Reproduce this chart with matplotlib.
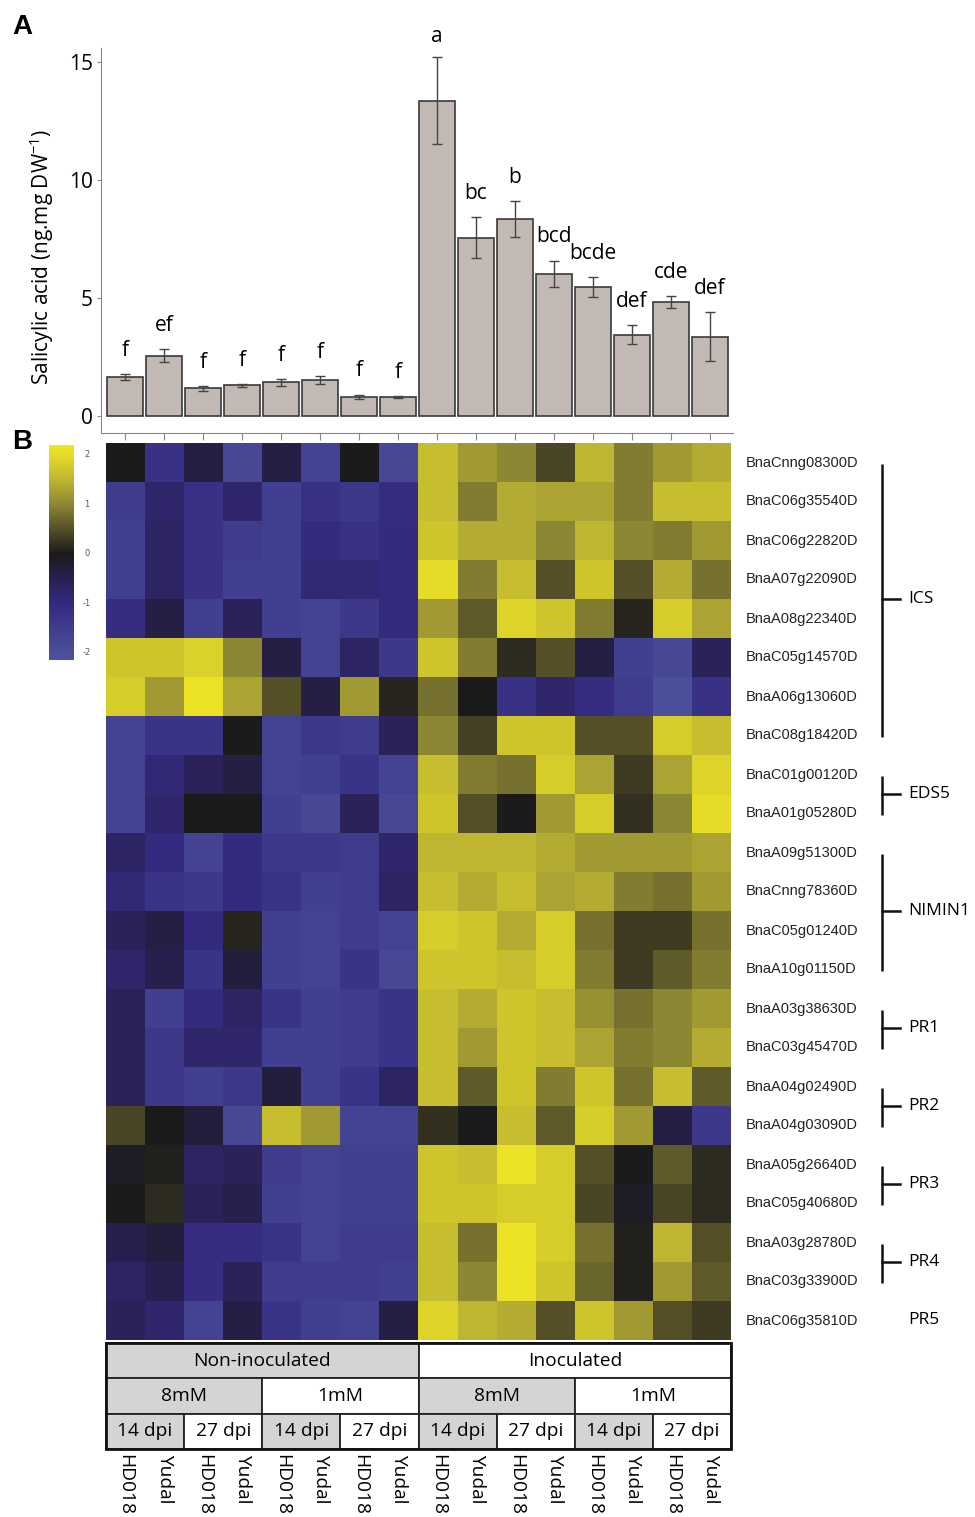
import matplotlib
matplotlib.use("Agg")
import matplotlib.pyplot as plt
import numpy as np
from matplotlib.colors import LinearSegmentedColormap
from matplotlib.patches import Rectangle

plt.rcParams['font.family'] = ['Open Sans', 'DejaVu Sans']
plt.rcParams['mathtext.fontset'] = 'custom'
plt.rcParams['mathtext.rm'] = 'Open Sans'
plt.rcParams['mathtext.default'] = 'regular'

# ---- panel A data ----
sa_mean = [1.66, 2.55, 1.18, 1.30, 1.43, 1.52, 0.81, 0.81,
           13.37, 7.55, 8.35, 6.04, 5.48, 3.45, 4.84, 3.37]
sa_err = [0.12, 0.27, 0.10, 0.05, 0.15, 0.17, 0.10, 0.03,
          1.86, 0.87, 0.77, 0.55, 0.42, 0.39, 0.26, 1.03]
sa_letters = ['f', 'ef', 'f', 'f', 'f', 'f', 'f', 'f',
              'a', 'bc', 'b', 'bcd', 'bcde', 'def', 'cde', 'def']

# ---- panel B data ----
genes = ['BnaCnng08300D', 'BnaC06g35540D', 'BnaC06g22820D', 'BnaA07g22090D',
         'BnaA08g22340D', 'BnaC05g14570D', 'BnaA06g13060D', 'BnaC08g18420D',
         'BnaC01g00120D', 'BnaA01g05280D', 'BnaA09g51300D', 'BnaCnng78360D',
         'BnaC05g01240D', 'BnaA10g01150D', 'BnaA03g38630D', 'BnaC03g45470D',
         'BnaA04g02490D', 'BnaA04g03090D', 'BnaA05g26640D', 'BnaC05g40680D',
         'BnaA03g28780D', 'BnaC03g33900D', 'BnaC06g35810D']
groups = ['ICS', 'EDS5', 'NIMIN1', 'PR1', 'PR2', 'PR3', 'PR4', 'PR5']
group_first = [0, 8, 10, 14, 16, 18, 20, 22]
group_last = [7, 9, 13, 15, 17, 19, 21, 22]

expr_z = [
    [0.0, -1.2, -0.4, -1.8, -0.4, -1.7, 0.0, -1.8, 1.6, 1.2, 1.0, 0.4, 1.5, 0.9, 1.2, 1.4],
    [-1.5, -0.8, -1.2, -0.8, -1.6, -1.2, -1.4, -1.1, 1.6, 0.9, 1.4, 1.3, 1.3, 0.9, 1.6, 1.6],
    [-1.6, -0.7, -1.2, -1.5, -1.6, -1.0, -1.2, -1.0, 1.7, 1.4, 1.4, 1.0, 1.5, 1.0, 0.9, 1.2],
    [-1.6, -0.7, -1.2, -1.6, -1.6, -0.9, -0.9, -1.0, 2.0, 0.9, 1.6, 0.5, 1.7, 0.5, 1.4, 0.8],
    [-1.1, -0.4, -1.6, -0.6, -1.6, -1.7, -1.4, -1.0, 1.2, 0.6, 1.9, 1.7, 0.9, 0.1, 1.8, 1.3],
    [1.7, 1.7, 1.85, 1.0, -0.4, -1.7, -0.7, -1.4, 1.7, 0.9, 0.15, 0.5, -0.4, -1.6, -1.8, -0.6],
    [1.8, 1.2, 2.1, 1.3, 0.5, -0.4, 1.2, 0.1, 0.8, 0.0, -1.2, -0.8, -1.1, -1.5, -2.0, -1.2],
    [-1.7, -1.3, -1.3, 0.0, -1.7, -1.4, -1.5, -0.6, 1.0, 0.35, 1.7, 1.7, 0.5, 0.5, 1.8, 1.6],
    [-1.7, -0.9, -0.6, -0.4, -1.7, -1.6, -1.3, -1.7, 1.6, 0.9, 0.8, 1.8, 1.3, 0.3, 1.3, 1.9],
    [-1.7, -0.8, 0.0, 0.0, -1.6, -1.8, -0.6, -1.8, 1.7, 0.5, 0.0, 1.2, 1.8, 0.2, 1.0, 2.0],
    [-0.7, -1.0, -1.7, -1.0, -1.4, -1.4, -1.5, -0.8, 1.5, 1.5, 1.5, 1.4, 1.2, 1.2, 1.2, 1.3],
    [-0.9, -1.3, -1.4, -1.0, -1.3, -1.6, -1.5, -0.7, 1.6, 1.4, 1.6, 1.3, 1.4, 0.9, 0.8, 1.2],
    [-0.6, -0.4, -1.0, 0.1, -1.6, -1.7, -1.5, -1.7, 1.8, 1.7, 1.4, 1.8, 0.8, 0.3, 0.3, 0.8],
    [-0.8, -0.5, -1.3, -0.3, -1.6, -1.7, -1.3, -1.8, 1.7, 1.7, 1.6, 1.8, 0.9, 0.3, 0.6, 0.9],
    [-0.6, -1.6, -1.0, -0.7, -1.3, -1.6, -1.5, -1.3, 1.6, 1.4, 1.7, 1.6, 1.1, 0.8, 1.0, 1.2],
    [-0.6, -1.4, -0.8, -0.8, -1.6, -1.6, -1.5, -1.3, 1.6, 1.2, 1.7, 1.6, 1.3, 0.9, 1.0, 1.4],
    [-0.6, -1.4, -1.6, -1.4, -0.3, -1.6, -1.3, -0.7, 1.6, 0.6, 1.7, 0.9, 1.7, 0.8, 1.6, 0.6],
    [0.4, 0.0, -0.3, -1.8, 1.6, 1.2, -1.7, -1.7, 0.2, 0.0, 1.6, 0.6, 1.8, 1.2, -0.4, -1.4],
    [-0.1, 0.05, -0.7, -0.6, -1.5, -1.7, -1.6, -1.6, 1.7, 1.6, 2.1, 1.8, 0.5, 0.0, 0.6, 0.15],
    [0.0, 0.15, -0.6, -0.5, -1.6, -1.7, -1.6, -1.6, 1.7, 1.7, 1.8, 1.8, 0.4, -0.1, 0.4, 0.15],
    [-0.5, -0.3, -1.1, -1.1, -1.3, -1.7, -1.5, -1.5, 1.6, 0.8, 2.1, 1.8, 0.8, 0.05, 1.5, 0.5],
    [-0.7, -0.5, -1.1, -0.6, -1.5, -1.5, -1.5, -1.6, 1.6, 1.0, 2.1, 1.7, 0.7, 0.05, 1.2, 0.6],
    [-0.6, -0.8, -1.7, -0.4, -1.3, -1.6, -1.7, -0.4, 1.9, 1.5, 1.4, 0.5, 1.7, 1.2, 0.5, 0.3],
]

treatment = ['Non-inoculated', 'Inoculated']
nitrogen = ['8mM', '1mM', '8mM', '1mM']
timepoint = ['14 dpi', '27 dpi'] * 4
cultivar = ['HD018', 'Yudal'] * 8
cbar_ticks = [2, 1, 0, -1, -2]

W, H = 975, 1517
fig = plt.figure(figsize=(W / 100, H / 100), dpi=100)


def box(x0, y0, x1, y1):
    # pixel box (top-left origin) -> figure fraction rect
    return [x0 / W, 1 - y1 / H, (x1 - x0) / W, (y1 - y0) / H]


# ---------------- panel A: bar chart ----------------
ax = fig.add_axes(box(101, 48, 733, 433))
xpos = np.arange(len(sa_mean))
ax.bar(xpos, sa_mean, width=0.92, color='#c2b9b4', edgecolor='#3a3a3a', linewidth=1.2, zorder=2)
ax.errorbar(xpos, sa_mean, yerr=sa_err, fmt='none', ecolor='#444444', elinewidth=1.0,
            capsize=3.5, capthick=1.0, zorder=3)
for i, lab in enumerate(sa_letters):
    top = sa_mean[i] + sa_err[i]
    ax.text(xpos[i], top + (0.85 if top > 14 else 1.0), lab, ha='center', va='center',
            fontsize=15, clip_on=False)
ax.set_xlim(-0.615, 15.59)
ax.set_ylim(-0.72, 15.6)
ax.set_yticks([0, 5, 10, 15])
ax.set_xticks(xpos)
ax.set_xticklabels([])
ax.tick_params(axis='y', labelsize=15, length=3, color='#888888', pad=3)
ax.tick_params(axis='x', length=5, color='#888888')
for s in ['top', 'right']:
    ax.spines[s].set_visible(False)
for s in ['left', 'bottom']:
    ax.spines[s].set_color('#888888')
fig.text(42 / W, 1 - 257 / H, 'Salicylic acid (ng.mg DW$^{-1}$)', rotation=90,
         ha='center', va='center', fontsize=15)
fig.text(22 / W, 1 - 27 / H, 'A', fontsize=20, fontweight='bold',
         family='Liberation Sans', ha='center', va='center')
fig.text(22 / W, 1 - 442 / H, 'B', fontsize=20, fontweight='bold',
         family='Liberation Sans', ha='center', va='center')

# ---------------- panel B: heatmap ----------------
cmap = LinearSegmentedColormap.from_list('blk', [
    (0.00, (78 / 255, 82 / 255, 158 / 255)),
    (0.035, (75 / 255, 78 / 255, 155 / 255)),
    (0.264, (52 / 255, 42 / 255, 128 / 255)),
    (0.379, (40 / 255, 33 / 255, 80 / 255)),
    (0.494, (28 / 255, 27 / 255, 27 / 255)),
    (0.609, (85 / 255, 80 / 255, 40 / 255)),
    (0.724, (140 / 255, 135 / 255, 50 / 255)),
    (0.839, (190 / 255, 181 / 255, 50 / 255)),
    (0.954, (230 / 255, 220 / 255, 40 / 255)),
    (1.00, (240 / 255, 230 / 255, 35 / 255)),
])
vmin, vmax = -2.15, 2.2

axh = fig.add_axes(box(106, 443, 731, 1340))
axh.imshow(np.array(expr_z), cmap=cmap, vmin=vmin, vmax=vmax, aspect='auto',
           interpolation='nearest', extent=(0, 16, 23, 0))
axh.set_xlim(0, 16)
axh.set_ylim(23, 0)
axh.axis('off')

for r, g in enumerate(genes):
    axh.text(16.38, r + 0.5, g, ha='left', va='center', fontsize=10.5,
             family='Liberation Sans', color='#222222', clip_on=False)
for name, r0, r1 in zip(groups, group_first, group_last):
    mid = (r0 + r1) / 2 + 0.5
    if r1 > r0:
        axh.plot([19.87, 19.87], [r0 + 0.55, r1 + 0.55], color='#111111', lw=1.8,
                 clip_on=False, solid_capstyle='butt')
        axh.plot([19.87, 20.33], [mid, mid], color='#111111', lw=1.8, clip_on=False)
    axh.text(20.55, mid, name, ha='left', va='center', fontsize=12.5, clip_on=False)

# colour scale
axc = fig.add_axes(box(49, 445, 74, 660))
grad = np.linspace(vmax, vmin, 256)[:, None]
axc.imshow(grad, cmap=cmap, vmin=vmin, vmax=vmax, aspect='auto', extent=(0, 1, vmin, vmax))
axc.set_xlim(0, 1)
axc.set_ylim(vmin, vmax)
axc.axis('off')
for t in cbar_ticks:
    axc.text(1.52, t, str(t), ha='center', va='center', fontsize=6, color='#555555',
             family='DejaVu Sans', clip_on=False)

# condition table
axt = fig.add_axes(box(106, 1343, 731, 1449))
axt.set_xlim(0, 16)
axt.set_ylim(0, 3)
axt.axis('off')
gray = '#d4d4d4'


def cell(x0, x1, y0, label, fill):
    axt.add_patch(Rectangle((x0, y0), x1 - x0, 1, facecolor=fill, edgecolor='#222222',
                            lw=1.3, clip_on=False))
    axt.text((x0 + x1) / 2, y0 + 0.5, label, ha='center', va='center', fontsize=13.8)


for i, lab in enumerate(treatment):
    cell(i * 8, i * 8 + 8, 2, lab, gray if i == 0 else 'white')
for i, lab in enumerate(nitrogen):
    cell(i * 4, i * 4 + 4, 1, lab, gray if i % 2 == 0 else 'white')
for i, lab in enumerate(timepoint):
    cell(i * 2, i * 2 + 2, 0, lab, gray if i % 2 == 0 else 'white')
axt.add_patch(Rectangle((0, 0), 16, 3, facecolor='none', edgecolor='#111111', lw=2.0,
                        clip_on=False))
for i, lab in enumerate(cultivar):
    axt.text(i + 0.5, -0.15, lab, rotation=-90, ha='center', va='top', fontsize=13.8,
             clip_on=False)

fig.savefig('out.png', dpi=100)
